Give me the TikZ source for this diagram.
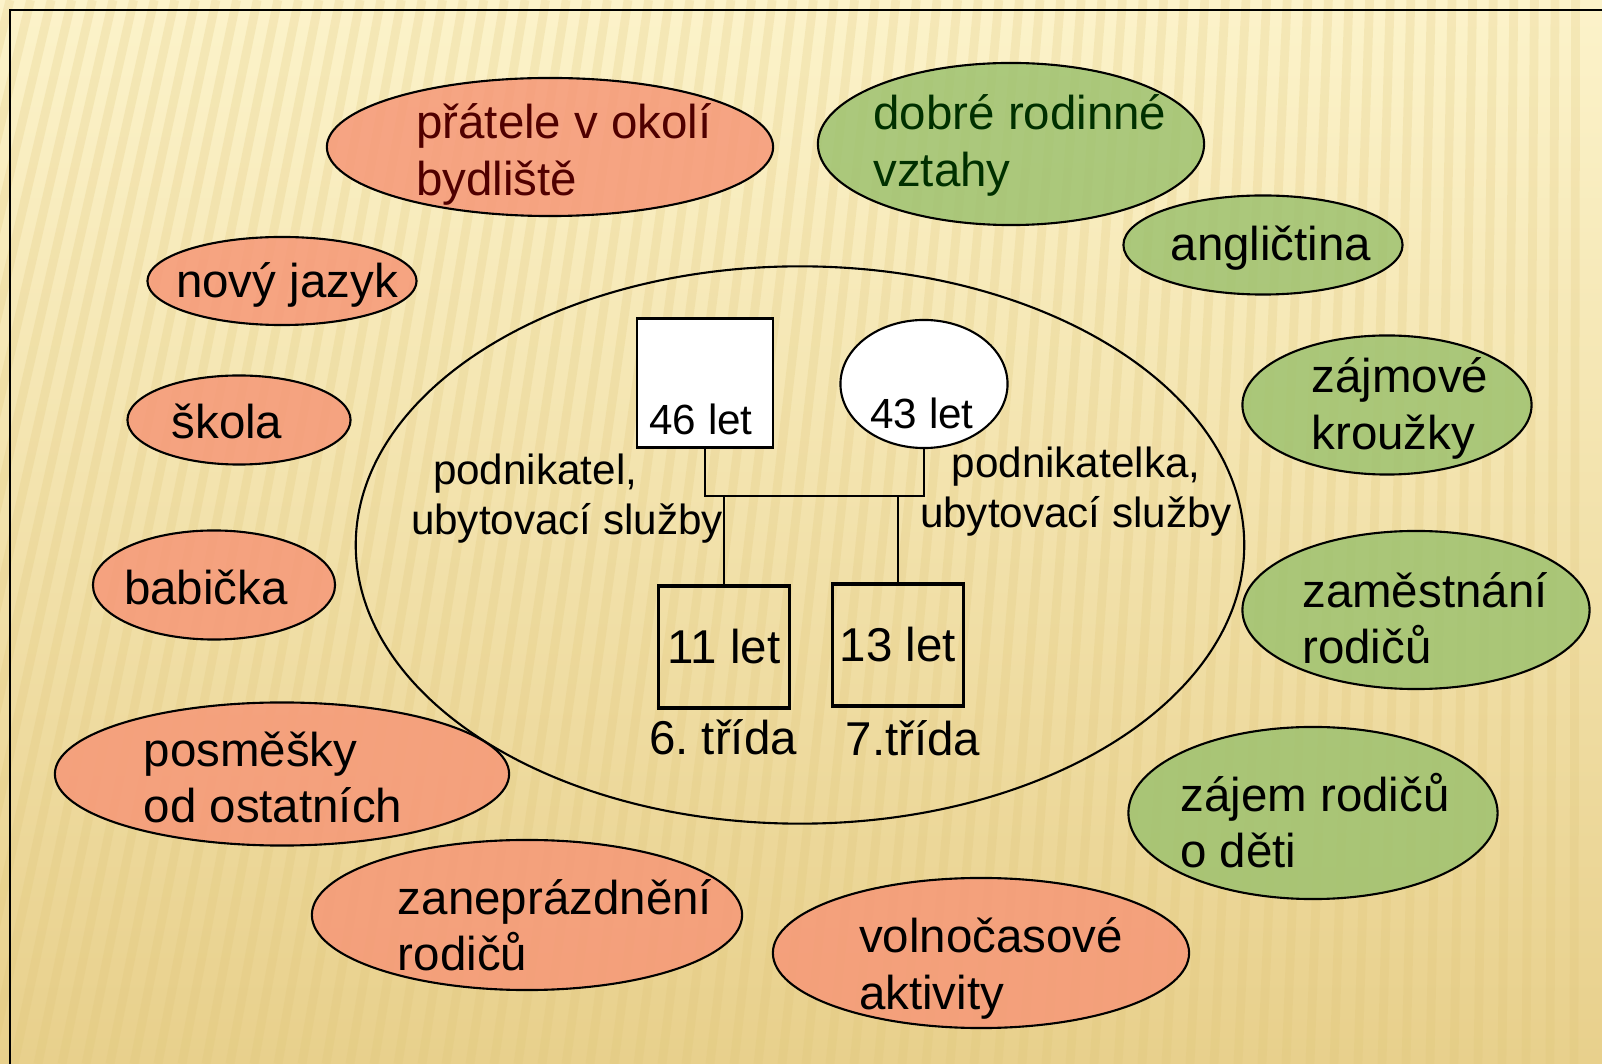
\documentclass[tikz,border=0pt]{standalone}
\usepackage{fontspec}
\setmainfont{Liberation Sans}
\usetikzlibrary{shapes.geometric,positioning}

\definecolor{bgtop}{RGB}{252,243,202}
\definecolor{bgbot}{RGB}{232,208,140}
\definecolor{stripecol}{RGB}{222,196,118}
\definecolor{salmon}{RGB}{246,152,120}
\definecolor{leaf}{RGB}{158,194,112}
\definecolor{darkred}{RGB}{80,0,0}
\definecolor{darkgreen}{RGB}{0,48,0}

\tikzset{
  blob/.style={ellipse, draw=black, line width=0.6pt, inner sep=0pt, fill opacity=0.85},
  redblob/.style={blob, fill=salmon},
  greenblob/.style={blob, fill=leaf},
  blobtext/.style={align=left, inner sep=0pt, yshift=-1pt, font=\fontsize{13.5}{16}\selectfont},
  person/.style={draw=black, line width=0.6pt, fill=white, inner sep=0pt},
  kid/.style={draw=black, line width=1pt, inner sep=0pt, minimum width=1.31cm, minimum height=1.22cm, font=\fontsize{13.5}{16}\selectfont},
  kidtext/.style={inner sep=0pt, font=\fontsize{13.5}{16}\selectfont},
  job/.style={inner sep=0pt, font=\fontsize{12}{14.2}\selectfont},
  tree/.style={line width=0.4pt},
  stripe/.style={draw=stripecol, line width=2.5pt, opacity=0.22}
}

\begin{document}
\begin{tikzpicture}[x=0.01cm, y=-0.01cm]
    \useasboundingbox (0,0) rectangle (1602,1064);
    % background
    \fill[top color=bgtop, bottom color=bgbot] (0,0) rectangle (1602,1064);
    \begin{scope}
      \clip (0,0) rectangle (1602,1064);
      \foreach \i in {0,...,76}
        \draw[stripe] (\i*24-250,1064) -- (\i*20.6+10,0);
    \end{scope}
    \draw[line width=0.7pt] (1602,10) -- (10,10) -- (10,1064);

    % family circle
    \node[draw, line width=0.6pt, ellipse, inner sep=0pt, minimum width=8.88cm, minimum height=5.57cm] (home) at (800,545) {};

    % risks
    \node[redblob, minimum width=4.46cm, minimum height=1.38cm] (friends) at (550,147) {};
    \node[blobtext, text=darkred] (friendstxt) at (564,151) {přátele v okolí\\bydliště};
    \node[redblob, minimum width=2.69cm, minimum height=0.88cm] (lang) at (282,281) {};
    \node[blobtext] (langtxt) at (287,281) {nový jazyk};
    \node[redblob, minimum width=2.23cm, minimum height=0.89cm] (school) at (239,420) {};
    \node[blobtext] (schooltxt) at (227,418) {škola};
    \node[redblob, minimum width=2.42cm, minimum height=1.09cm] (granny) at (214,585) {};
    \node[blobtext] (grannytxt) at (206,584) {babička};
    \node[redblob, minimum width=4.54cm, minimum height=1.43cm] (mock) at (282,774) {};
    \node[blobtext] (mocktxt) at (273,774) {posměšky\\od ostatních};
    \node[redblob, minimum width=4.30cm, minimum height=1.50cm] (busy) at (527,915) {};
    \node[blobtext] (busytxt) at (555,922) {zaneprázdnění\\rodičů};
    \node[redblob, minimum width=4.16cm, minimum height=1.50cm] (leisure) at (981,953) {};
    \node[blobtext] (leisuretxt) at (991,965) {volnočasové\\aktivity};

    % supports
    \node[greenblob, minimum width=3.86cm, minimum height=1.62cm] (family) at (1011,144) {};
    \node[blobtext, text=darkgreen] (familytxt) at (1020,142) {dobré rodinné\\vztahy};
    \node[greenblob, minimum width=2.79cm, minimum height=0.99cm] (english) at (1263,245) {};
    \node[blobtext] (englishtxt) at (1271,245) {angličtina};
    \node[greenblob, minimum width=2.89cm, minimum height=1.39cm] (clubs) at (1387,405) {};
    \node[blobtext] (clubstxt) at (1400,405) {zájmové\\kroužky};
    \node[greenblob, minimum width=3.47cm, minimum height=1.58cm] (work) at (1416,610) {};
    \node[blobtext] (worktxt) at (1425,615) {zaměstnání\\rodičů};
    \node[greenblob, minimum width=3.69cm, minimum height=1.72cm] (care) at (1313,813) {};
    \node[blobtext] (caretxt) at (1315,817) {zájem rodičů\\o děti};

    % genogram
    \node[person, minimum width=1.36cm, minimum height=1.29cm] (dad) at (705,383) {};
    \node[person, ellipse, minimum width=1.67cm, minimum height=1.28cm] (mum) at (924,384) {};
    \node[job] (dadage) at (701,419) {46 let};
    \node[job] (mumage) at (922,413) {43 let};
    \node[job, align=left] (dadjob) at (567,499) {\hspace*{0.22cm}podnikatel,\\ubytovací služby};
    \node[job, align=center] (mumjob) at (1076,492) {podnikatelka,\\ubytovací služby};
    \coordinate (bar) at (0,496);
    \draw[tree] (dad.south) -- (dad.south |- bar) -- (mum.south |- bar) -- (mum.south);
    \node[kid] (younger) at (724,647) {11 let};
    \node[kid] (older) at (898,645) {13 let};
    \draw[tree] (younger.north) -- (younger.north |- bar);
    \draw[tree] (older.north) -- (older.north |- bar);
    \node[kidtext] (youngerclass) at (723,737) {6.\ třída};
    \node[kidtext] (olderclass) at (913,738) {7.třída};
\end{tikzpicture}
\end{document}
